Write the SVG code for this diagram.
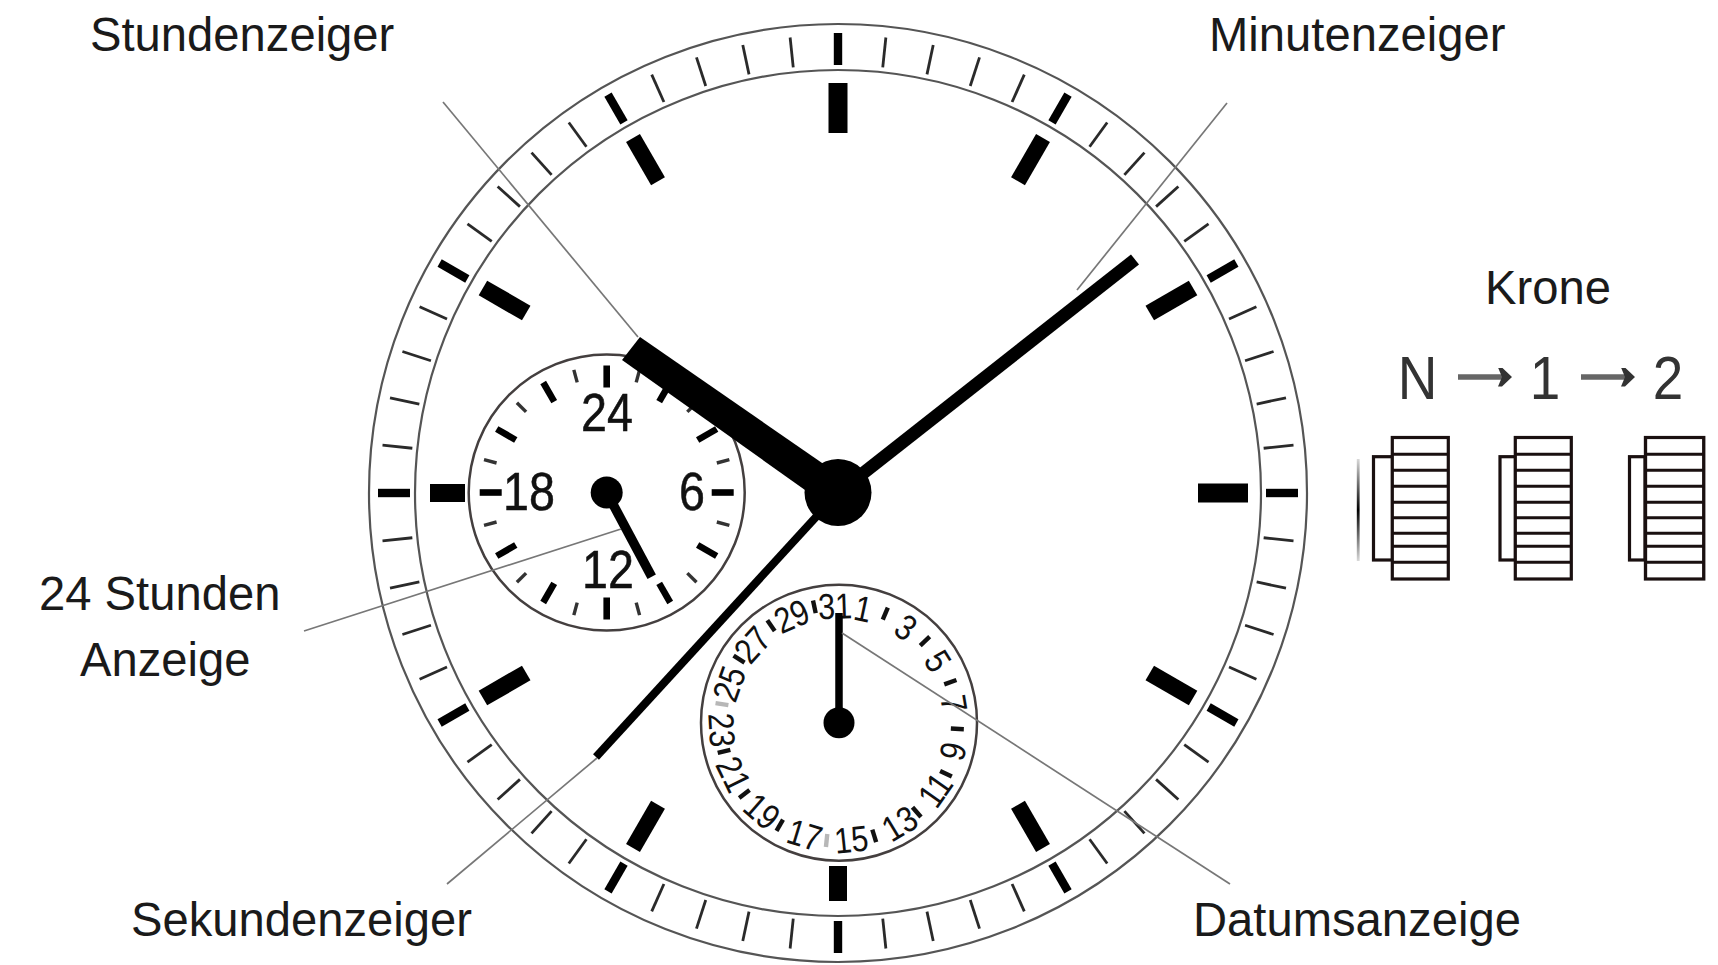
<svg xmlns="http://www.w3.org/2000/svg" width="1718" height="965" viewBox="0 0 1718 965">
<style>
.l{font-family:"Liberation Sans",Arial,sans-serif;font-size:47.2px;fill:#1a1a1a}
.d{font-family:"Liberation Sans",Arial,sans-serif;font-size:53px;fill:#111;stroke:#111;stroke-width:.5;text-anchor:middle}
.n{font-family:"Liberation Sans",Arial,sans-serif;font-size:36px;fill:#111;text-anchor:middle}
.k{font-family:"Liberation Sans",Arial,sans-serif;font-size:61px;fill:#333;text-anchor:middle}
.ring{fill:none;stroke:#555;stroke-width:2.2}
.sub{fill:#fff;stroke:#443f3f;stroke-width:2.5}
.lead{stroke:#777;stroke-width:1.7;fill:none}
.cr{fill:#fff;stroke:#1a1010;stroke-width:3.2}
.crl{stroke:#1a1010;stroke-width:3}
</style>
<defs>
<rect id="t" x="-1.400" y="-458" width="2.800" height="30" fill="#2a2a2a"/>
<rect id="T" x="-4.200" y="-460" width="8.400" height="32" fill="#000"/>
<rect id="h0" x="-9.500" y="-410" width="19" height="50"/>
<rect id="hs" x="-9" y="-408" width="18" height="35"/>
<rect id="h1" x="-8" y="-410" width="16" height="50"/>
<rect id="h2" x="-8.500" y="-410" width="17" height="50"/>
<rect id="s" x="-1.700" y="-127" width="3.400" height="13" fill="#333"/>
<rect id="S" x="-3.300" y="-127" width="6.600" height="22"/>
<rect id="q" x="-2.200" y="-125" width="4.400" height="13" fill="#111"/>
<linearGradient id="fade" x1="0" y1="0" x2="0" y2="1"><stop offset="0" stop-color="#000" stop-opacity=".15"/><stop offset=".5" stop-color="#000"/><stop offset="1" stop-color="#000" stop-opacity=".15"/></linearGradient>
<g id="crown">
<rect class="cr" x="0" y="437.500" width="56" height="141.500"/>
<path class="crl" d="M0 454.300H56M0 470.300H56M0 486.300H56M0 502.300H56M0 517.700H56M0 533.300H56M0 546.300H56M0 562.300H56"/>
</g>
<marker id="arr" markerWidth="14" markerHeight="19" refX="4" refY="9.500" orient="auto" markerUnits="userSpaceOnUse"><path d="M0 0H4L14 9.500L4 19H0L4 9.500Z" fill="#333"/></marker>
</defs>
<rect width="1718" height="965" fill="#fff"/>
<g id="dial">
<circle class="ring" cx="838" cy="493" r="469"/>
<circle class="ring" cx="838" cy="493" r="423"/>
<g transform="translate(838 493)">
<use href="#T"/><use href="#T" transform="rotate(30)"/><use href="#T" transform="rotate(60)"/><use href="#T" transform="rotate(90)"/><use href="#T" transform="rotate(120)"/><use href="#T" transform="rotate(150)"/><use href="#T" transform="rotate(180)"/><use href="#T" transform="rotate(210)"/><use href="#T" transform="rotate(240)"/><use href="#T" transform="rotate(270)"/><use href="#T" transform="rotate(300)"/><use href="#T" transform="rotate(330)"/>
<use href="#t" transform="rotate(6)"/><use href="#t" transform="rotate(12)"/><use href="#t" transform="rotate(18)"/><use href="#t" transform="rotate(24)"/>
<use href="#t" transform="rotate(36)"/><use href="#t" transform="rotate(42)"/><use href="#t" transform="rotate(48)"/><use href="#t" transform="rotate(54)"/>
<use href="#t" transform="rotate(66)"/><use href="#t" transform="rotate(72)"/><use href="#t" transform="rotate(78)"/><use href="#t" transform="rotate(84)"/>
<use href="#t" transform="rotate(96)"/><use href="#t" transform="rotate(102)"/><use href="#t" transform="rotate(108)"/><use href="#t" transform="rotate(114)"/>
<use href="#t" transform="rotate(126)"/><use href="#t" transform="rotate(132)"/><use href="#t" transform="rotate(138)"/><use href="#t" transform="rotate(144)"/>
<use href="#t" transform="rotate(156)"/><use href="#t" transform="rotate(162)"/><use href="#t" transform="rotate(168)"/><use href="#t" transform="rotate(174)"/>
<use href="#t" transform="rotate(186)"/><use href="#t" transform="rotate(192)"/><use href="#t" transform="rotate(198)"/><use href="#t" transform="rotate(204)"/>
<use href="#t" transform="rotate(216)"/><use href="#t" transform="rotate(222)"/><use href="#t" transform="rotate(228)"/><use href="#t" transform="rotate(234)"/>
<use href="#t" transform="rotate(246)"/><use href="#t" transform="rotate(252)"/><use href="#t" transform="rotate(258)"/><use href="#t" transform="rotate(264)"/>
<use href="#t" transform="rotate(276)"/><use href="#t" transform="rotate(282)"/><use href="#t" transform="rotate(288)"/><use href="#t" transform="rotate(294)"/>
<use href="#t" transform="rotate(306)"/><use href="#t" transform="rotate(312)"/><use href="#t" transform="rotate(318)"/><use href="#t" transform="rotate(324)"/>
<use href="#t" transform="rotate(336)"/><use href="#t" transform="rotate(342)"/><use href="#t" transform="rotate(348)"/><use href="#t" transform="rotate(354)"/>
<use href="#h0"/><use href="#h1" transform="rotate(30)"/><use href="#h2" transform="rotate(60)"/><use href="#h0" transform="rotate(90)"/><use href="#h2" transform="rotate(120)"/><use href="#h1" transform="rotate(150)"/><use href="#hs" transform="rotate(180)"/><use href="#h1" transform="rotate(210)"/><use href="#h2" transform="rotate(240)"/><use href="#hs" transform="rotate(270)"/><use href="#h2" transform="rotate(300)"/><use href="#h1" transform="rotate(330)"/>
</g>
</g>
<g id="sub24">
<circle class="sub" cx="606.700" cy="492.500" r="138"/>
<g transform="translate(606.700 492.500)">
<use href="#S"/><use href="#S" transform="rotate(30)"/><use href="#S" transform="rotate(60)"/><use href="#S" transform="rotate(90)"/><use href="#S" transform="rotate(120)"/><use href="#S" transform="rotate(150)"/><use href="#S" transform="rotate(180)"/><use href="#S" transform="rotate(210)"/><use href="#S" transform="rotate(240)"/><use href="#S" transform="rotate(270)"/><use href="#S" transform="rotate(300)"/><use href="#S" transform="rotate(330)"/>
<use href="#s" transform="rotate(15)"/><use href="#s" transform="rotate(45)"/><use href="#s" transform="rotate(75)"/><use href="#s" transform="rotate(105)"/><use href="#s" transform="rotate(135)"/><use href="#s" transform="rotate(165)"/><use href="#s" transform="rotate(195)"/><use href="#s" transform="rotate(225)"/><use href="#s" transform="rotate(255)"/><use href="#s" transform="rotate(285)"/><use href="#s" transform="rotate(315)"/><use href="#s" transform="rotate(345)"/>
</g>
<text class="d" transform="translate(607 431) scale(.88 1)">24</text>
<text class="d" transform="translate(529 510) scale(.88 1)">18</text>
<text class="d" transform="translate(692 510) scale(.88 1)">6</text>
<text class="d" transform="translate(608 588) scale(.88 1)">12</text>
<path d="M606.700 492.500L651.700 576.700" stroke="#000" stroke-width="9.500" fill="none"/>
<circle cx="606.700" cy="492.500" r="16"/>
</g>
<g id="subDate">
<circle class="sub" cx="839" cy="722.700" r="138"/>
<g transform="translate(839 722.700)">
<use href="#q" transform="rotate(23)"/><use href="#q" transform="rotate(46.500)"/><use href="#q" transform="rotate(70)"/><use href="#q" transform="rotate(93)"/><use href="#q" transform="rotate(115.500)"/><use href="#q" transform="rotate(139)"/><use href="#q" transform="rotate(162.700)"/><use href="#q" transform="rotate(186)" opacity=".3"/><use href="#q" transform="rotate(210)"/><use href="#q" transform="rotate(233)"/><use href="#q" transform="rotate(256)"/><use href="#q" transform="rotate(279)" opacity=".3"/><use href="#q" transform="rotate(302.500)"/><use href="#q" transform="rotate(325)"/><use href="#q" transform="rotate(348)"/>
<text class="n" transform="rotate(358) translate(0 -104) scale(.85 1)">31</text>
<text class="n" transform="rotate(12) translate(0 -104) scale(.85 1)">1</text>
<text class="n" transform="rotate(35) translate(0 -104) scale(.85 1)">3</text>
<text class="n" transform="rotate(58) translate(0 -104) scale(.85 1)">5</text>
<text class="n" transform="rotate(80.500) translate(0 -104) scale(.85 1)">7</text>
<text class="n" transform="rotate(-76) translate(0 130) scale(.85 1)">9</text>
<text class="n" transform="rotate(-55) translate(0 130) scale(.85 1)">11</text>
<text class="n" transform="rotate(-31) translate(0 130) scale(.85 1)">13</text>
<text class="n" transform="rotate(-6) translate(0 130) scale(.85 1)">15</text>
<text class="n" transform="rotate(17) translate(0 130) scale(.85 1)">17</text>
<text class="n" transform="rotate(41) translate(0 130) scale(.85 1)">19</text>
<text class="n" transform="rotate(64) translate(0 130) scale(.85 1)">21</text>
<text class="n" transform="rotate(86.500) translate(0 130) scale(.85 1)">23</text>
<text class="n" transform="rotate(289.500) translate(0 -104) scale(.85 1)">25</text>
<text class="n" transform="rotate(312) translate(0 -104) scale(.85 1)">27</text>
<text class="n" transform="rotate(336) translate(0 -104) scale(.85 1)">29</text>
</g>
<path d="M839 722.700V613" stroke="#000" stroke-width="7.500" fill="none"/>
<circle cx="839" cy="722.700" r="15.500"/>
</g>
<g id="connectors">
<path class="lead" d="M443 102L638 337"/>
<path class="lead" d="M1227 103L1077 290"/>
<path class="lead" d="M304 631L621 529"/>
<path class="lead" d="M447 884L597 758"/>
<path class="lead" d="M1230 884L842 633"/>
</g>
<g id="hands">
<path id="hand-second" d="M838 493L596 757" stroke="#000" stroke-width="8" fill="none"/>
<path id="hand-minute" d="M838 493L1135 259.500" stroke="#000" stroke-width="13" fill="none"/>
<path id="hand-hour" d="M640 337L622 360L805 490L825 465Z"/>
<circle cx="838" cy="492.500" r="33.500"/>
</g>
<g id="crown-n"><rect x="1356.800" y="459" width="2.800" height="102" fill="url(#fade)"/><rect class="cr" x="1373.500" y="456.700" width="19" height="103.300"/><use href="#crown" x="1392.300"/></g>
<g id="crown-1"><rect class="cr" x="1500" y="456.700" width="15.500" height="103.300"/><use href="#crown" x="1515.300"/></g>
<g id="crown-2"><rect class="cr" x="1629.500" y="456.700" width="15.500" height="103.300"/><use href="#crown" transform="translate(1645.500 0) scale(1.040 1)"/></g>
<g id="crown-labels">
<text class="k" transform="translate(1417.500 399) scale(.9 1)">N</text>
<text class="k" transform="translate(1545 399) scale(.9 1)">1</text>
<text class="k" transform="translate(1668 399) scale(.9 1)">2</text>
<path d="M1458 377H1502" stroke="#666" stroke-width="5.500" fill="none" marker-end="url(#arr)"/>
<path d="M1581 377H1625" stroke="#666" stroke-width="5.500" fill="none" marker-end="url(#arr)"/>
</g>
<g id="labels">
<text class="l" x="90" y="51">Stundenzeiger</text>
<text class="l" x="1209" y="51">Minutenzeiger</text>
<text class="l" x="1485" y="304">Krone</text>
<text class="l" x="39" y="610">24 Stunden</text>
<text class="l" x="80" y="676">Anzeige</text>
<text class="l" x="131" y="936">Sekundenzeiger</text>
<text class="l" x="1193" y="936">Datumsanzeige</text>
</g>
</svg>
